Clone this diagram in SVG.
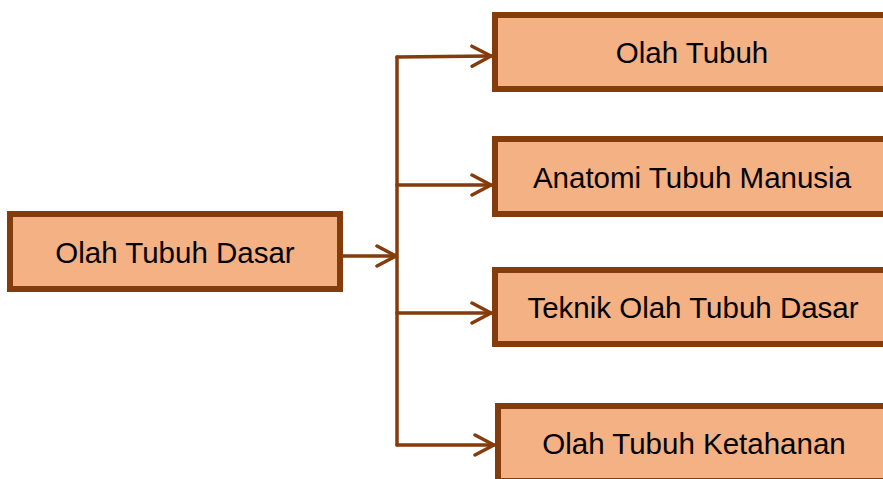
<svg xmlns="http://www.w3.org/2000/svg" width="883" height="479" viewBox="0 0 883 479">
  <style>
    .box { fill: #F4B183; stroke: #843C0C; stroke-width: 6; }
    .label { font-family: "Liberation Sans", Arial, sans-serif; font-size: 29.5px; fill: #000; text-anchor: middle; }
    .conn { fill: none; stroke: #843C0C; stroke-width: 3.5; stroke-linecap: round; stroke-linejoin: round; }
  </style>
  <defs>
    <marker id="arrow" viewBox="0 0 24 24" refX="21" refY="12" markerWidth="24" markerHeight="24" markerUnits="userSpaceOnUse" orient="auto">
      <path d="M2,2 L21,12 L2,22" fill="none" stroke="#843C0C" stroke-width="3.5" stroke-linecap="round" stroke-linejoin="round"/>
    </marker>
  </defs>

  <g id="connectors">
    <line class="conn" x1="343" y1="256" x2="396" y2="256" marker-end="url(#arrow)"/>
    <line class="conn" x1="397" y1="57" x2="397" y2="445"/>
    <line class="conn" x1="397" y1="57" x2="491" y2="56" marker-end="url(#arrow)"/>
    <line class="conn" x1="397" y1="185" x2="491" y2="185" marker-end="url(#arrow)"/>
    <line class="conn" x1="397" y1="313" x2="491" y2="313" marker-end="url(#arrow)"/>
    <line class="conn" x1="397" y1="445" x2="494" y2="445" marker-end="url(#arrow)"/>
  </g>

  <g id="olah-tubuh-dasar">
    <rect class="box" x="10" y="214" width="330" height="75"/>
    <text class="label" x="175" y="263">Olah Tubuh Dasar</text>
  </g>

  <g id="olah-tubuh">
    <rect class="box" x="495" y="15" width="395" height="74"/>
    <text class="label" x="692" y="63">Olah Tubuh</text>
  </g>

  <g id="anatomi-tubuh-manusia">
    <rect class="box" x="495" y="139" width="395" height="75"/>
    <text class="label" x="692" y="188">Anatomi Tubuh Manusia</text>
  </g>

  <g id="teknik-olah-tubuh-dasar">
    <rect class="box" x="495" y="270" width="395" height="74"/>
    <text class="label" x="693" y="318">Teknik Olah Tubuh Dasar</text>
  </g>

  <g id="olah-tubuh-ketahanan">
    <rect class="box" x="498" y="406" width="395" height="75"/>
    <text class="label" x="694" y="454">Olah Tubuh Ketahanan</text>
  </g>
</svg>
